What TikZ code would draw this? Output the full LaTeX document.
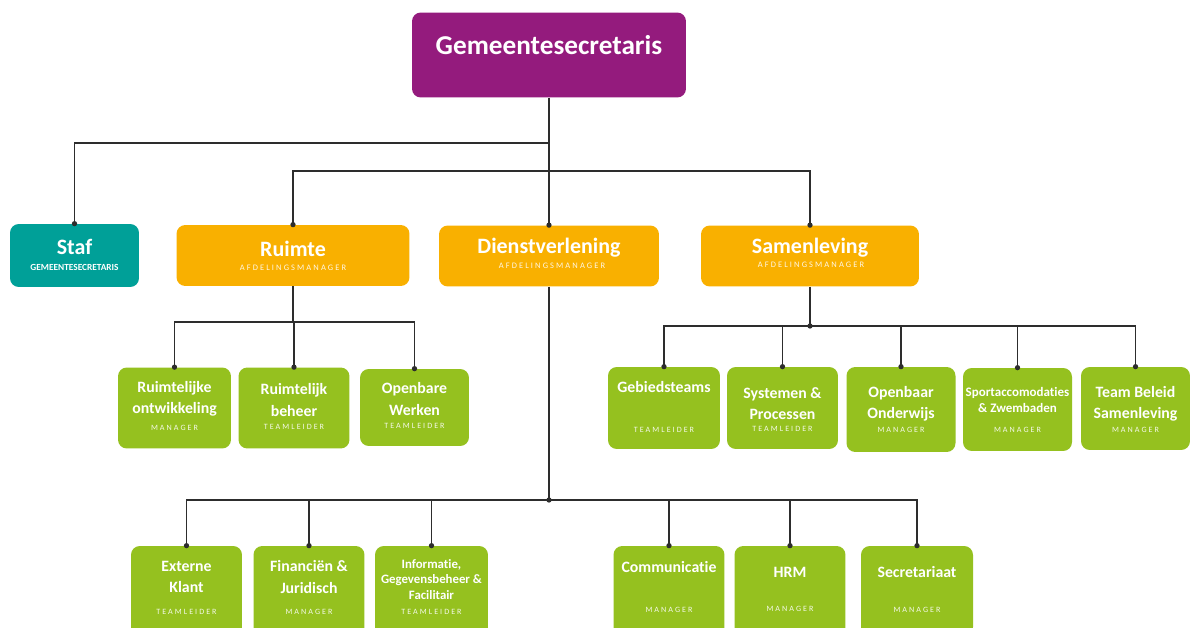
\documentclass[tikz,border=0pt]{standalone}
\usepackage{fontspec}
\setmainfont{Carlito}[Ligatures=NoCommon, Contextuals=NoAlternate]
\newfontfamily\subfont[LetterSpace=25]{Carlito}
\definecolor{gspurple}{RGB}{148,27,125}
\definecolor{gsteal}{RGB}{0,160,152}
\definecolor{gsorange}{RGB}{249,176,0}
\definecolor{gsgreen}{RGB}{149,193,31}
\definecolor{gsline}{RGB}{45,45,45}
\tikzset{
  box/.style={rounded corners=5pt, inner sep=0pt, draw=none},
  topbox/.style={box, fill=gspurple, minimum width=5.48cm, minimum height=1.7cm},
  stafbox/.style={box, fill=gsteal, minimum width=2.58cm, minimum height=1.26cm},
  afdbox/.style={box, fill=gsorange, minimum height=1.22cm},
  teambox/.style={box, fill=gsgreen, minimum width=2.22cm, minimum height=1.62cm},
  ttl/.style={text=white, font=\bfseries\fontsize{9}{12}\selectfont, align=center, inner sep=0pt},
  bigttl/.style={ttl, font=\bfseries\fontsize{12.5}{15}\selectfont},
  smallttl/.style={ttl, font=\bfseries\fontsize{7.4}{9.4}\selectfont},
  sub/.style={text=white, text opacity=0.9, font=\subfont\fontsize{4.6}{5}\selectfont, inner sep=0pt},
  conn/.style={gsline, line width=0.8pt},
  dot/.style={fill=gsline}
}
\begin{document}
\begin{tikzpicture}[x=0.02cm, y=-0.02cm]
\clip (0,0) rectangle (1190,628);
\fill[white] (0,0) rectangle (1190,628);

% Top
\node[topbox] (gs) at (549,55) {};
\node[ttl, font=\bfseries\fontsize{15.5}{18}\selectfont] (gs-t) at (549,45) {Gemeentesecretaris};

% Staf and departments
\node[stafbox] (staf) at (74.5,255.5) {};
\node[bigttl] (staf-t) at (74.5,246.5) {Staf};
\node[ttl, font=\bfseries\fontsize{5.3}{6}\selectfont] (staf-s) at (74.5,267) {GEMEENTESECRETARIS};

\node[afdbox, minimum width=4.66cm] (ruimte) at (293,255.5) {};
\node[bigttl] (ruimte-t) at (293,249) {Ruimte};
\node[sub, font=\subfont\fontsize{4.8}{5}\selectfont] (ruimte-s) at (293,268) {AFDELINGSMANAGER};

\node[afdbox, minimum width=4.4cm] (dienst) at (549,256) {};
\node[bigttl] (dienst-t) at (549,247.5) {Dienstverlening};
\node[sub, font=\subfont\fontsize{4.8}{5}\selectfont] (dienst-s) at (552,266) {AFDELINGSMANAGER};

\node[afdbox, minimum width=4.36cm] (samen) at (810,256) {};
\node[bigttl] (samen-t) at (810,247.5) {Samenleving};
\node[sub, font=\subfont\fontsize{4.8}{5}\selectfont] (samen-s) at (811,265) {AFDELINGSMANAGER};

% Ruimte teams
\node[teambox, minimum width=2.26cm] (rontw) at (174.5,408) {};
\node[ttl] (rontw-t) at (174.5,399) {Ruimtelijke\\ontwikkeling};
\node[sub] (rontw-s) at (174.5,427.5) {MANAGER};

\node[teambox] (rbeh) at (294,408) {};
\node[ttl] (rbeh-t) at (294,400) {Ruimtelijk\\beheer};
\node[sub] (rbeh-s) at (294,427) {TEAMLEIDER};

\node[teambox, minimum width=2.18cm, minimum height=1.54cm] (owerk) at (414.5,407.5) {};
\node[ttl] (owerk-t) at (414.5,399) {Openbare\\Werken};
\node[sub] (owerk-s) at (414.5,426) {TEAMLEIDER};

% Samenleving teams
\node[teambox, minimum width=2.24cm, minimum height=1.64cm] (gebied) at (664,408) {};
\node[ttl] (gebied-t) at (664,387.5) {Gebiedsteams};
\node[sub] (gebied-s) at (664,429.5) {TEAMLEIDER};

\node[teambox, minimum height=1.64cm] (syst) at (782.5,408) {};
\node[ttl] (syst-t) at (782.5,403.5) {Systemen \&\\Processen};
\node[sub] (syst-s) at (782.5,428.5) {TEAMLEIDER};

\node[teambox, minimum width=2.18cm, minimum height=1.7cm] (onderw) at (901,409.5) {};
\node[ttl] (onderw-t) at (901,404) {Openbaar\\Onderwijs};
\node[sub] (onderw-s) at (901,429.5) {MANAGER};

\node[teambox, minimum width=2.18cm, minimum height=1.66cm] (sport) at (1017.5,409.5) {};
\node[smallttl] (sport-t) at (1017.5,400) {Sportaccomodaties\\\& Zwembaden};
\node[sub] (sport-s) at (1017.5,429.5) {MANAGER};

\node[teambox, minimum width=2.18cm, minimum height=1.66cm] (beleid) at (1135.5,408.5) {};
\node[ttl] (beleid-t) at (1135.5,404) {Team Beleid\\Samenleving};
\node[sub] (beleid-s) at (1135.5,429.5) {MANAGER};

% Dienstverlening teams
\node[teambox, minimum height=1.8cm] (extern) at (186.5,591) {};
\node[ttl] (extern-t) at (186.5,577) {Externe\\Klant};
\node[sub] (extern-s) at (186.5,611.5) {TEAMLEIDER};

\node[teambox, minimum height=1.8cm] (financ) at (309,591) {};
\node[ttl] (financ-t) at (309,577) {Financiën \&\\Juridisch};
\node[sub] (financ-s) at (309,611.5) {MANAGER};

\node[teambox, minimum width=2.26cm, minimum height=1.8cm] (inform) at (431.5,591) {};
\node[smallttl, font=\bfseries\fontsize{7.3}{9}\selectfont] (inform-t) at (431.5,579.5) {Informatie,\\Gegevensbeheer \&\\Facilitair};
\node[sub] (inform-s) at (431.5,611.5) {TEAMLEIDER};

\node[teambox, minimum height=1.8cm] (commu) at (669,591) {};
\node[ttl] (commu-t) at (669,567.5) {Communicatie};
\node[sub] (commu-s) at (669,610) {MANAGER};

\node[teambox, minimum height=1.8cm] (hrm) at (790,591) {};
\node[ttl] (hrm-t) at (790,572) {HRM};
\node[sub] (hrm-s) at (790,609) {MANAGER};

\node[teambox, minimum width=2.24cm, minimum height=1.8cm] (secr) at (917,591) {};
\node[ttl] (secr-t) at (917,572.5) {Secretariaat};
\node[sub] (secr-s) at (917,610) {MANAGER};

% Connectors
\coordinate (split1) at (549,143);
\coordinate (split2) at (549,171);
\coordinate (rbus) at (293,322);
\coordinate (sbus) at (810,326);
\coordinate (dbus) at (549,500);

\draw[conn] (gs.south) -- (split1) -| (staf.north);
\draw[conn] (gs.south) -- (dienst.north);
\draw[conn] (ruimte.north) |- (split2) -| (samen.north);

\draw[conn] (ruimte.south) -- (rbus);
\foreach \n in {rontw,rbeh,owerk}
  \draw[conn] (rbus) -| (\n.north);

\draw[conn] (samen.south) -- (sbus);
\foreach \n in {gebied,syst,onderw,sport,beleid}
  \draw[conn] (sbus) -| (\n.north);

\draw[conn] (dienst.south) -- (dbus);
\foreach \n in {extern,financ,inform,commu,hrm,secr}
  \draw[conn] (dbus) -| (\n.north);

% Dots
\foreach \n in {staf,ruimte,dienst,samen,rontw,rbeh,owerk,gebied,syst,onderw,sport,beleid,extern,financ,inform,commu,hrm,secr}
  \fill[dot] (\n.north) circle (1.5pt);
\fill[dot] (sbus) circle (1.5pt);
\fill[dot] (dbus) circle (1.5pt);
\end{tikzpicture}
\end{document}
